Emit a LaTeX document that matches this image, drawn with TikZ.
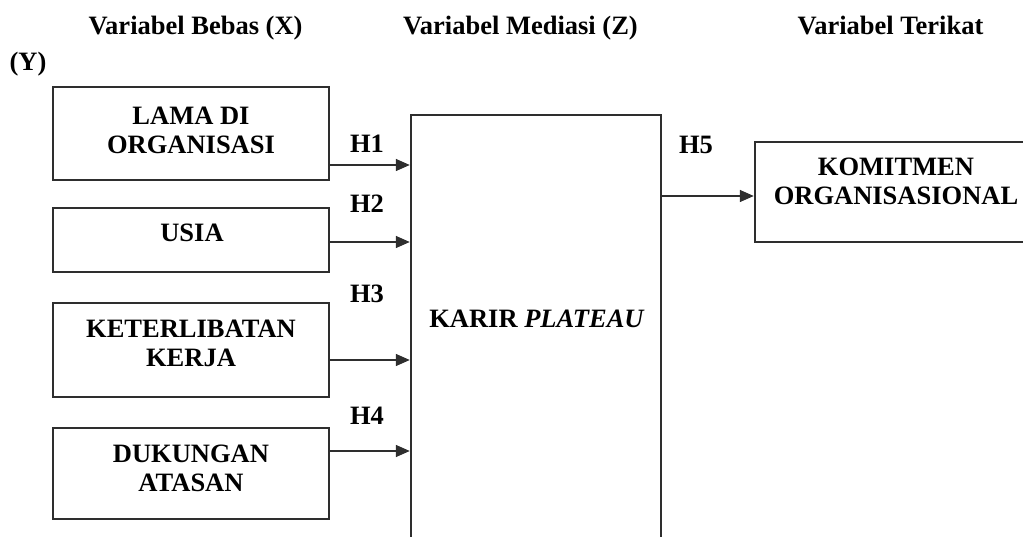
\documentclass[tikz,border=0pt]{standalone}
\usepackage{fontspec}
\setmainfont{Liberation Serif}
\usetikzlibrary{arrows.meta}
\definecolor{linegray}{HTML}{2E2E2E}
\begin{document}
\begin{tikzpicture}[x=1pt,y=-1pt,
  box/.style={draw=linegray, line width=1.5pt, rectangle, inner sep=0pt},
  txt/.style={font=\fontsize{26.5}{29}\selectfont\bfseries, align=center, inner sep=0pt},
  hlab/.style={font=\fontsize{26.5}{29}\selectfont\bfseries, inner sep=0pt, anchor=base},
  arr/.style={draw=linegray, line width=1.6pt, -{Triangle[length=14pt,width=12pt]}, shorten >=0.5pt}
]
\useasboundingbox (0,0) rectangle (1023,537);
\clip (0,0) rectangle (1023,537);
% headers
\node[hlab] (hx) at (195.5,35) {Variabel Bebas (X)};
\node[hlab] (hz) at (520.5,35) {Variabel Mediasi (Z)};
\node[hlab] (hy) at (890.5,35) {Variabel Terikat};
\node[hlab] (yy) at (28,71) {(Y)};
% boxes
\node[box, minimum width=276pt, minimum height=93pt] (b1) at (191,133.5) {};
\node[box, minimum width=276pt, minimum height=64pt] (b2) at (191,240) {};
\node[box, minimum width=276pt, minimum height=94pt] (b3) at (191,350) {};
\node[box, minimum width=276pt, minimum height=91pt] (b4) at (191,473.5) {};
\node[box, minimum width=250pt, minimum height=485pt] (mid) at (536,357.5) {};
\node[box, minimum width=285pt, minimum height=100pt] (rb) at (897.5,192) {};
% texts
\node[txt] (t1) at (191,130) {LAMA DI\\ORGANISASI};
\node[txt, anchor=base] (t2) at (192,242) {USIA};
\node[txt] (t3) at (191,343.5) {KETERLIBATAN\\KERJA};
\node[txt] (t4) at (191,468.5) {DUKUNGAN\\ATASAN};
\node[txt, anchor=base] (tm) at (537,328) {KARIR \textit{PLATEAU}};
\node[txt] (tr) at (896,181.5) {KOMITMEN\\ORGANISASIONAL};
% arrows
\draw[arr] (b1.east |- 0,165) -- (mid.west |- 0,165);
\draw[arr] (b2.east |- 0,242) -- (mid.west |- 0,242);
\draw[arr] (b3.east |- 0,360) -- (mid.west |- 0,360);
\draw[arr] (b4.east |- 0,451) -- (mid.west |- 0,451);
\draw[arr] (mid.east |- 0,196) -- (rb.west |- 0,196);
% labels
\node[hlab] (h1) at (367,153) {H1};
\node[hlab] (h2) at (367,213) {H2};
\node[hlab] (h3) at (367,303) {H3};
\node[hlab] (h4) at (367,424) {H4};
\node[hlab] (h5) at (696,154) {H5};
\end{tikzpicture}
\end{document}
